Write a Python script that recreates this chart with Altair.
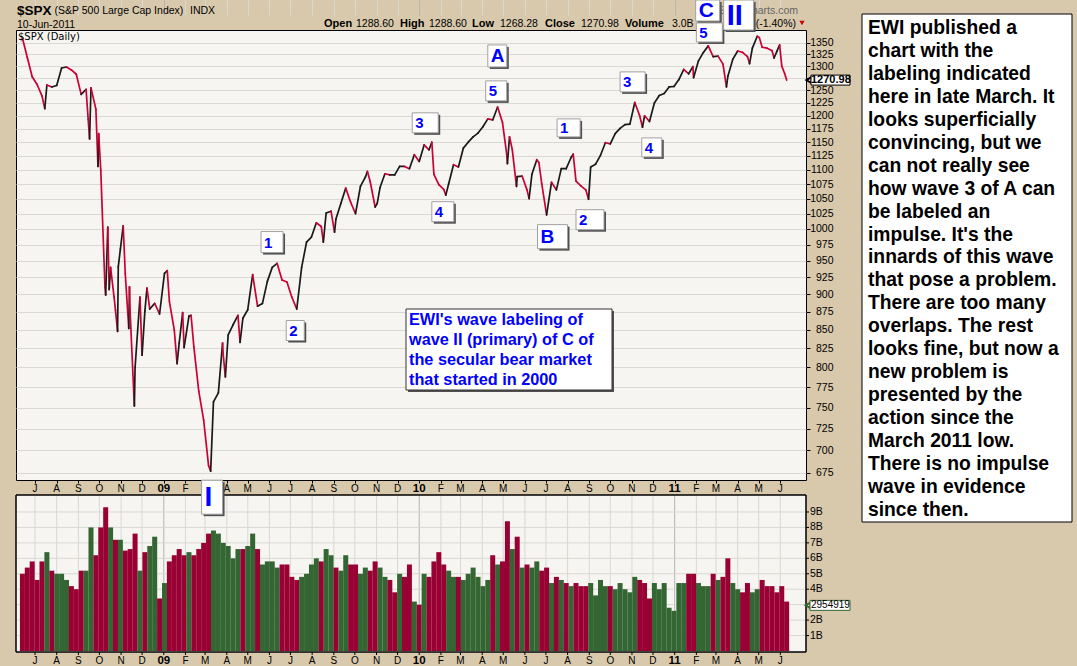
import altair as alt
import numpy as np
import pandas as pd

# ---------------- data ----------------
# weekly (Friday) closes of the S&P 500, 13-Jun-2008 .. 10-Jun-2011
week_close = [
    1360, 1318, 1278, 1262, 1239, 1261, 1257, 1260, 1296, 1298, 1292, 1283,
    1242, 1252, 1255, 1213,
    1099, 899, 940, 877, 968,
    930, 873, 800, 896,
    876, 879, 887, 872,
    931, 890, 850, 832, 826,
    869, 827, 770, 735,
    683, 757, 768, 816,
    843, 857, 870, 866,
    878, 929, 883, 887, 919,
    940, 946, 921, 918,
    896, 879, 940, 979, 987,
    1010, 1004, 1026, 1029,
    1016, 1042, 1068, 1044,
    1025, 1071, 1087, 1079, 1036,
    1069, 1093, 1091, 1091,
    1106, 1106, 1102, 1127, 1115,
    1145, 1136, 1092, 1074,
    1066, 1075, 1109, 1105,
    1139, 1150, 1160, 1167,
    1179, 1194, 1192, 1217, 1187,
    1111, 1136, 1088, 1089,
    1065, 1092, 1118, 1076,
    1023, 1078, 1065, 1102, 1102,
    1122, 1080, 1072, 1065,
    1105, 1110, 1126, 1149,
    1147, 1166, 1176, 1183, 1184,
    1226, 1200, 1200, 1189,
    1225, 1240, 1244, 1257, 1258,
    1272, 1293, 1284, 1276,
    1311, 1329, 1343, 1320,
    1321, 1304, 1279, 1314,
    1332, 1329, 1320, 1338, 1364,
    1340, 1338, 1333, 1331,
    1300, 1270.98,
]
# weekly volume, billions of shares
week_volume_b = [
    5.0, 5.4, 5.8, 4.6, 5.8, 6.4, 5.2, 5.0, 5.0, 4.6, 4.2, 4.0,
    5.2, 5.2, 8.0, 6.2,
    8.0, 9.3, 8.0, 7.2, 7.2,
    6.5, 6.6, 7.6, 5.2,
    6.4, 6.8, 7.4, 3.4,
    4.4, 5.8, 6.2, 6.6, 6.2,
    6.4, 6.2, 6.6, 7.0,
    7.6, 7.8, 7.6, 7.0,
    6.8, 6.0, 6.6, 6.6,
    6.8, 7.6, 6.6, 5.6, 5.8,
    5.8, 5.4, 5.6, 5.6,
    4.8, 4.6, 4.8, 5.0, 5.6,
    6.0, 5.8, 6.6, 6.2,
    5.4, 5.2, 6.2, 5.6,
    5.6, 5.0, 5.4, 5.2, 5.8,
    5.4, 4.8, 4.6, 3.8,
    5.0, 4.8, 5.6, 3.2, 3.0,
    5.0, 4.8, 5.8, 6.4,
    5.6, 5.2, 4.8, 4.8,
    4.6, 5.0, 5.4, 4.8,
    4.2, 4.6, 6.2, 5.6, 5.8,
    8.4, 6.6, 7.4, 5.4,
    5.6, 5.4, 5.8, 5.2,
    5.4, 4.4, 4.8, 4.6, 4.4,
    4.2, 4.4, 4.2, 4.2,
    4.4, 3.6, 4.6, 4.2,
    4.2, 4.0, 4.4, 4.0, 3.8,
    4.8, 4.6, 4.4, 3.4,
    4.4, 4.0, 4.4, 2.8, 2.6,
    4.4, 4.4, 5.0, 5.0,
    4.4, 4.2, 4.2, 5.0,
    4.6, 4.8, 6.0, 4.4,
    4.0, 3.8, 4.4, 3.8, 4.0,
    4.6, 4.2, 4.2, 3.8,
    4.2, 3.2,
]
# intra-week turning points visible on the daily line
extra_dates = [
    "2008-07-15", "2008-09-15", "2008-09-17", "2008-09-29", "2008-09-30",
    "2008-10-09", "2008-10-13", "2008-10-15", "2008-10-22", "2008-10-27",
    "2008-10-28", "2008-11-04", "2008-11-12", "2008-11-13", "2008-11-20",
    "2008-12-01", "2008-12-08", "2009-01-06", "2009-01-20", "2009-01-28",
    "2009-02-09", "2009-03-09", "2009-03-26", "2009-03-30", "2009-04-20",
    "2009-08-17", "2009-09-02", "2009-10-19", "2009-11-02", "2010-01-19",
    "2010-02-08", "2010-05-06", "2010-05-10", "2010-05-20", "2010-06-07",
    "2010-06-21", "2010-08-09", "2010-08-31", "2010-11-16", "2011-01-27",
    "2011-03-16", "2011-04-18", "2011-05-02", "2011-05-23", "2011-05-31",
    "2011-06-07",
]
extra_close = [
    1214, 1193, 1156, 1106, 1166,
    910, 1003, 907, 896, 848,
    941, 1005, 852, 911, 752,
    816, 909, 935, 805, 874,
    870, 677, 832, 788, 833,
    979, 995, 1097, 1042, 1150,
    1056, 1128, 1160, 1071, 1050,
    1113, 1128, 1049, 1178, 1299,
    1257, 1305, 1361, 1317, 1345,
    1285,
]
month_labels = ["J", "A", "S", "O", "N", "D",
                "09", "F", "M", "A", "M", "J", "J", "A", "S", "O", "N", "D",
                "10", "F", "M", "A", "M", "J", "J", "A", "S", "O", "N", "D",
                "11", "F", "M", "A", "M", "J"]
price_ticks = list(range(675, 1351, 25))
volume_ticks_b = [1, 2, 3, 4, 5, 6, 7, 8, 9]
volume_labels_b = [1, 2, 4, 5, 6, 7, 8, 9]   # 3B is hidden behind the last-volume tag
last_close = 1270.98
last_volume_b = 2.954919
last_volume_text = "2954919"

# Elliott-wave labels: text, anchor date, anchor price (top-left of the box)
wave_labels = ["C", "5", "II", "A", "5", "3", "4", "1", "B", "2", "3", "4", "1", "2", "I"]
wave_dates = ["2011-01-31", "2011-02-01", "2011-03-12", "2010-04-09", "2010-04-06",
              "2009-12-22", "2010-01-19", "2010-07-17", "2010-06-19", "2010-08-13",
              "2010-10-15", "2010-11-15", "2009-05-20", "2009-06-25", "2009-02-24"]
wave_prices = [1446, 1393.5, 1446, 1345, 1269.4, 1205.7, 1044.9, 1194, 1007, 1031.5,
               1287.9, 1158, 995.8, 862.9, 667.2]

header_names = ["Open", "High", "Low", "Close", "Volume"]
header_values = ["1288.60", "1288.60", "1268.28", "1270.98", "3.0B"]

ewi_lines = ["EWI's wave labeling of", "wave II (primary) of C of",
             "the secular bear market", "that started in 2000"]
comment_lines = [
    "EWI published a", "chart with the", "labeling indicated",
    "here in late March. It", "looks superficially", "convincing, but we",
    "can not really  see", "how wave 3 of A can", "be labeled an",
    "impulse. It's the", "innards of this wave", "that pose a problem.",
    "There are too many", "overlaps. The rest", "looks fine, but now a",
    "new problem is", "presented by the", "action since the",
    "March 2011 low.", "There is no impulse", "wave in evidence",
    "since then.",
]

# ---------------- styles / layout ----------------
F = "Liberation Sans"
W, H = 790, 450
RED_LINE, BLACK_LINE = "#cc0033", "#1a1a1a"
VOL_RED, VOL_GREEN = "#990033", "#336633"
GRID, GRID_YEAR = "#d8d8d4", "#b4b4b0"
box_w = [24, 26, 30, 19, 21, 26, 22, 23, 30, 28, 25, 20, 22, 18, 21]
box_h = [21, 19, 30, 22, 20, 20, 20, 18, 24, 20, 20, 19, 21, 20, 34]
box_fs = [21, 15, 29, 19, 15, 15, 15, 15, 19, 15, 15, 15, 15, 15, 28]
stat_name_x = [308, 384, 456, 529, 609]
stat_value_x = [340, 413, 484, 565, 656]


def ms(d):
    return int(pd.Timestamp(d).value // 10**6)


week_dates = pd.date_range("2008-06-13", "2011-06-10", freq="W-FRI")
month_ticks = pd.date_range("2008-07-01", "2011-06-01", freq="MS")

pts = sorted([(ms(d), c) for d, c in zip(week_dates, week_close)] +
             [(ms(d), c) for d, c in zip(extra_dates, extra_close)])
seg = pd.DataFrame({
    "t": [p[0] for p in pts[:-1]], "t2": [p[0] for p in pts[1:]],
    "c": [p[1] for p in pts[:-1]], "c2": [p[1] for p in pts[1:]],
})
seg["dir"] = np.where(seg["c2"] >= seg["c"], "up", "down")

prev_close = [week_close[0]] + week_close[:-1]
vol = pd.DataFrame({
    "t": [ms(d) for d in week_dates],
    "v": [v * 1e9 for v in week_volume_b],
    "dir": ["up" if c > p else "down" for c, p in zip(week_close, prev_close)],
})
months = pd.DataFrame({"t": [ms(d) for d in month_ticks], "lab": month_labels})
months["yr"] = [m.month == 1 for m in month_ticks]
vgrid = pd.DataFrame({"v": [b * 1e9 for b in volume_ticks_b]})
vlab = pd.DataFrame({"v": [b * 1e9 for b in volume_labels_b],
                     "lab": [f"{b}B" for b in volume_labels_b]})
ONE = pd.DataFrame({"k": [0]})

xscale = alt.Scale(type="utc", domain=[ms("2008-06-11"), ms("2011-06-30 12:00")], nice=False)
yscale = alt.Scale(type="log", domain=[667.4, 1377.8], nice=False)
vscale = alt.Scale(domain=[0, 10.1e9], range=[621, 465], nice=False, zero=False)

xaxis = alt.Axis(values=[ms(d) for d in month_ticks], grid=True,
                 gridColor={"condition": {"test": "utcmonth(datum.value) == 0", "value": GRID_YEAR},
                            "value": GRID},
                 labels=False, ticks=True, tickSize=3, tickColor="#000000",
                 domain=False, title=None, orient="bottom")
yaxis = alt.Axis(orient="right", values=price_ticks, grid=True, gridColor=GRID,
                 tickSize=4, tickColor="#000000", labelAlign="right", labelPadding=23,
                 labelFontSize=10.5, labelFont=F, labelColor="#000000",
                 labelExpr="datum.value == 1275 ? '' : datum.label", format="d",
                 labelOverlap=False, labelBaseline="middle", domain=False, title=None)

X = alt.X("t:T", scale=xscale, axis=xaxis)


def ptext(s, x, y, **kw):
    kw.setdefault("font", F)
    return alt.Chart(ONE).mark_text(text=s, **kw).encode(x=alt.value(x), y=alt.value(y))


def prect(x, x2, y, y2, **kw):
    return alt.Chart(ONE).mark_rect(**kw).encode(
        x=alt.value(x), x2=alt.value(x2), y=alt.value(y), y2=alt.value(y2))


layers = []

# ---- volume panel ----
layers.append(prect(0, W, 465, 622, fill="#f6f5f1", stroke="#000000", strokeWidth=1))
layers.append(alt.Chart(months).mark_rule(strokeWidth=1).encode(
    x=X, y=alt.value(466), y2=alt.value(621),
    color=alt.condition(alt.datum.yr, alt.value(GRID_YEAR), alt.value(GRID))))
layers.append(alt.Chart(vgrid).mark_rule(color=GRID, strokeWidth=1).encode(
    y=alt.Y("v:Q", scale=vscale, axis=None), x=alt.value(1), x2=alt.value(W - 1)))
layers.append(alt.Chart(vol).mark_bar(width=5).encode(
    x=X, y=alt.Y("v:Q", scale=vscale, axis=None),
    color=alt.condition(alt.datum.dir == "up", alt.value(VOL_GREEN), alt.value(VOL_RED))))
layers.append(prect(0, W, 465, 622, fill=None, stroke="#000000", strokeWidth=1, fillOpacity=0))
layers.append(alt.Chart(vgrid).mark_rule(color="#000000").encode(
    y=alt.Y("v:Q", scale=vscale, axis=None), x=alt.value(W), x2=alt.value(W + 3)))
layers.append(alt.Chart(vlab).mark_text(align="left", baseline="middle", font=F,
                                        fontSize=10.5, color="#000000").encode(
    y=alt.Y("v:Q", scale=vscale, axis=None), x=alt.value(W + 4), text="lab"))

# ---- price line ----
layers.append(alt.Chart(seg).mark_rule(strokeWidth=1.7, strokeCap="round").encode(
    x=X, x2="t2", y=alt.Y("c:Q", scale=yscale, axis=yaxis), y2="c2",
    color=alt.condition(alt.datum.dir == "up", alt.value(BLACK_LINE), alt.value(RED_LINE))))

# ---- date bands ----
for ybase in (459, 631):
    layers.append(alt.Chart(months).transform_filter("!datum.yr").mark_text(
        font=F, fontSize=10, color="#000000", baseline="middle").encode(
        x=X, y=alt.value(ybase), text="lab"))
    layers.append(alt.Chart(months).transform_filter("datum.yr").mark_text(
        font=F, fontSize=11.5, fontWeight="bold", color="#000000", baseline="middle").encode(
        x=X, y=alt.value(ybase), text="lab"))
layers.append(alt.Chart(months).mark_rule(color="#000000").encode(
    x=X, y=alt.value(622), y2=alt.value(625)))

# ---- header ----
layers.append(ptext("$SPX", 1, -19.5, align="left", baseline="middle", fontSize=13.5,
                    fontWeight="bold", color="#000000"))
layers.append(ptext("(S&P 500 Large Cap Index)", 38.5, -19, align="left", baseline="middle",
                    fontSize=10.5, color="#000000"))
layers.append(ptext("INDX", 174, -19, align="left", baseline="middle", fontSize=10.5,
                    color="#000000"))
layers.append(ptext("10-Jun-2011", 1, -5.5, align="left", baseline="middle", fontSize=10.5,
                    color="#000000"))
for name, nx in zip(header_names, stat_name_x):
    layers.append(ptext(name, nx, -6.5, align="left", baseline="middle", fontSize=11,
                        fontWeight="bold", color="#000000"))
for val, vx in zip(header_values, stat_value_x):
    layers.append(ptext(val, vx, -6.5, align="left", baseline="middle", fontSize=10.5,
                        color="#000000"))
layers.append(ptext("\u00a9 StockCharts.com", 782, -19, align="right", baseline="middle",
                    fontSize=10.5, color="#666666"))
layers.append(ptext("(-1.40%)", 780, -6.5, align="right", baseline="middle", fontSize=10.5,
                    color="#000000"))
layers.append(alt.Chart(ONE).mark_point(shape="triangle-down", filled=True, color="#cc0000",
                                        size=28, opacity=1).encode(
    x=alt.value(786), y=alt.value(-7)))
layers.append(ptext("$SPX (Daily)", 2, 7, align="left", baseline="middle", fontSize=10,
                    font="DejaVu Sans", color="#000000"))

# ---- last price / last volume tags ----
tagp = pd.DataFrame({"p": [last_close], "lab": [f"{last_close:.2f}"]})
layers.append(alt.Chart(tagp).mark_point(shape="triangle-left", filled=True, fill="white",
                                         stroke="#000000", size=36, opacity=1).encode(
    x=alt.value(793), y=alt.Y("p:Q", scale=yscale, axis=None)))
layers.append(alt.Chart(tagp).mark_rect(fill="white", stroke="#000000", yOffset=-5,
                                        y2Offset=5).encode(
    x=alt.value(795), x2=alt.value(834), y=alt.Y("p:Q", scale=yscale, axis=None), y2="p"))
layers.append(alt.Chart(tagp).mark_text(align="left", baseline="middle", font=F, fontSize=11,
                                        fontWeight="bold", color="#000000").encode(
    x=alt.value(795), y=alt.Y("p:Q", scale=yscale, axis=None), text="lab"))
tagv = pd.DataFrame({"v": [last_volume_b * 1e9], "lab": [last_volume_text]})
layers.append(alt.Chart(tagv).mark_point(shape="triangle-left", filled=True, fill="white",
                                         stroke=VOL_GREEN, size=30, opacity=1).encode(
    x=alt.value(792), y=alt.Y("v:Q", scale=vscale, axis=None)))
layers.append(alt.Chart(tagv).mark_rect(fill="white", stroke=VOL_GREEN, yOffset=-5,
                                        y2Offset=5).encode(
    x=alt.value(794), x2=alt.value(834), y=alt.Y("v:Q", scale=vscale, axis=None), y2="v"))
layers.append(alt.Chart(tagv).mark_text(align="left", baseline="middle", font=F, fontSize=10,
                                        color="#000000").encode(
    x=alt.value(795), y=alt.Y("v:Q", scale=vscale, axis=None), text="lab"))

# ---- wave label boxes ----
for lab, d, p, w, h, fs in zip(wave_labels, wave_dates, wave_prices, box_w, box_h, box_fs):
    row = pd.DataFrame({"t": [ms(d)], "p": [p], "lab": [lab]})
    Yp = alt.Y("p:Q", scale=yscale, axis=None)
    layers.append(alt.Chart(row).mark_rect(fill="#505050", xOffset=2, x2Offset=w + 2,
                                           yOffset=2, y2Offset=h + 2).encode(
        x=X, x2="t", y=Yp, y2="p"))
    layers.append(alt.Chart(row).mark_rect(fill="white", stroke="#a0a0a0", strokeWidth=1,
                                           x2Offset=w, y2Offset=h).encode(
        x=X, x2="t", y=Yp, y2="p"))
    layers.append(alt.Chart(row).mark_text(align="left", baseline="middle", dx=3,
                                           dy=h / 2 + 0.5, font=F, fontSize=fs,
                                           fontWeight="bold", color="#0000ff").encode(
        x=X, y=Yp, text="lab"))

# ---- EWI note ----
layers.append(prect(392, 598, 281, 362, fill="#505050"))
layers.append(prect(390, 596, 279, 360, fill="white", stroke="#333333", strokeWidth=1))
layers.append(ptext(ewi_lines, 393, 290, align="left", baseline="middle", fontSize=16.3,
                    fontWeight="bold", color="#0000ff", lineHeight=20))

# ---- commentary box ----
layers.append(prect(846, 1056, -16, 492, fill="white", stroke="#000000", strokeWidth=1))
layers.append(ptext(comment_lines, 852, -2, align="left", baseline="middle", fontSize=19.3,
                    fontWeight="bold", color="#000000", lineHeight=22.95))

chart = alt.layer(*layers).resolve_scale(y="independent").properties(
    width=W, height=H,
    autosize=alt.AutoSizeParams(type="none"),
    padding={"left": 16, "top": 30, "right": 271, "bottom": 186},
).configure(background="#d9c9ac").configure_view(fill="#f6f5f1", stroke="#000000",
                                                   strokeWidth=1)

chart.save("out.html", embed_options={"renderer": "svg", "actions": False})
